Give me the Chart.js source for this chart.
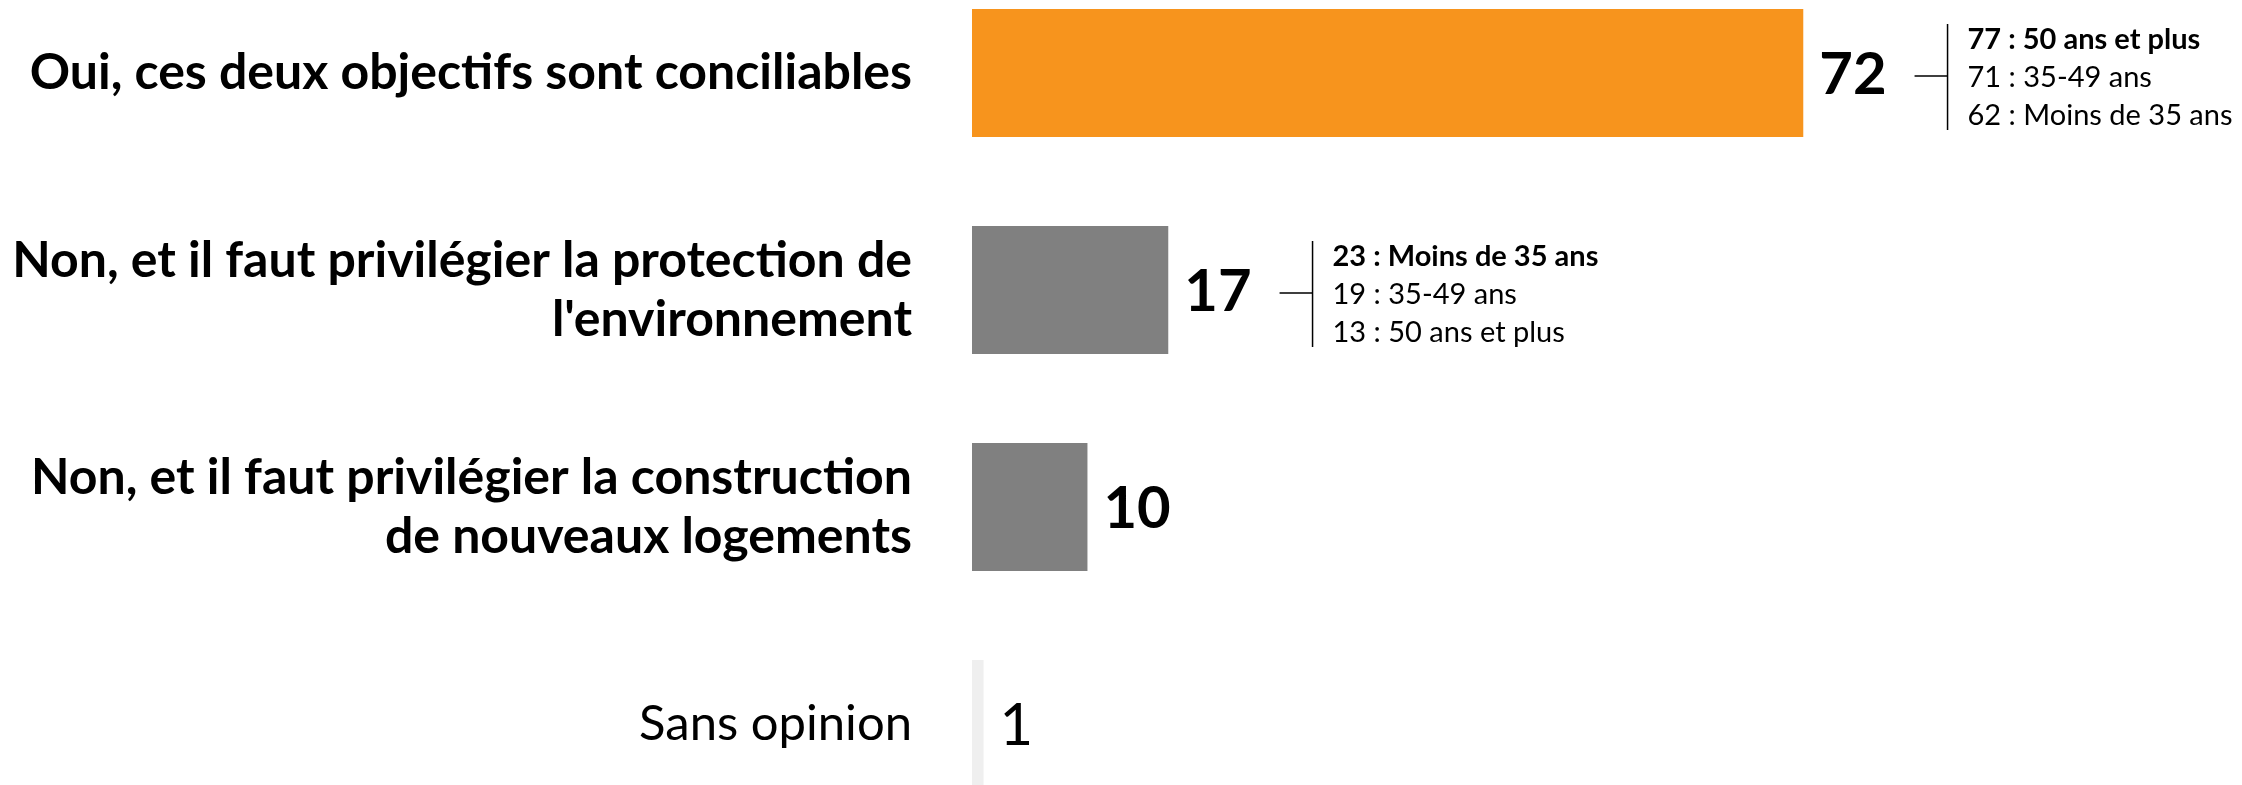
<!DOCTYPE html>
<html>
<head>
<meta charset="utf-8">
<script src="https://cdn.jsdelivr.net/npm/chart.js@4"></script>
<style>
  html, body { margin: 0; padding: 0; background: #ffffff; overflow: hidden; }
  #wrap { width: 2242px; height: 785px; position: relative; }
</style>
</head>
<body>
<div id="wrap"><canvas id="chart"></canvas></div>
<script>
// Answer options (multi-line labels as arrays)
const categories = [
  ["Oui, ces deux objectifs sont conciliables"],
  ["Non, et il faut privilégier la protection de", "l'environnement"],
  ["Non, et il faut privilégier la construction", "de nouveaux logements"],
  ["Sans opinion"]
];
// Share of respondents (%)
const values = [72, 17, 10, 1];
const barColors = ["#F7941D", "#808080", "#808080", "#EFEFEF"];
// Bold labels for substantive answers, regular for "Sans opinion"
const boldLabels = [true, true, true, false];
// Age-group breakdown next to each bar; first line is the highest group
const breakdowns = [
  ["77 : 50 ans et plus", "71 : 35-49 ans", "62 : Moins de 35 ans"],
  ["23 : Moins de 35 ans", "19 : 35-49 ans", "13 : 50 ans et plus"],
  [],
  []
];

const FONT = "Lato, 'Open Sans', sans-serif";

// Value labels and age-group brackets drawn beside each bar
const barAnnotations = {
  id: "barAnnotations",
  afterDatasetsDraw(chart) {
    const ctx = chart.ctx;
    const meta = chart.getDatasetMeta(0);
    ctx.save();
    meta.data.forEach((bar, i) => {
      const x = bar.x;
      const y = bar.y;
      ctx.fillStyle = "#000";
      ctx.textAlign = "left";
      ctx.textBaseline = "alphabetic";
      ctx.font = (boldLabels[i] ? "bold " : "") + "58px " + FONT;
      const txt = String(values[i]);
      const m = ctx.measureText(txt);
      const asc = m.actualBoundingBoxAscent;
      const tx = x + 16;
      ctx.fillText(txt, tx, y + asc / 2);

      const lines = breakdowns[i];
      if (!lines.length) return;
      const hx0 = tx + m.width + 28;
      const vx = hx0 + 33;
      ctx.strokeStyle = "#000";
      ctx.lineWidth = 1.5;
      ctx.beginPath();
      ctx.moveTo(hx0, y + 3);
      ctx.lineTo(vx, y + 3);
      ctx.moveTo(vx, y - 49);
      ctx.lineTo(vx, y + 57);
      ctx.stroke();

      ctx.textBaseline = "middle";
      lines.forEach((ln, k) => {
        ctx.font = (k === 0 ? "bold " : "") + "29px " + FONT;
        ctx.fillText(ln, vx + 20, y - 33 + k * 38);
      });
    });
    ctx.restore();
  }
};

new Chart(document.getElementById("chart"), {
  type: "bar",
  data: {
    labels: categories,
    datasets: [{
      data: values,
      backgroundColor: barColors,
      borderWidth: 0,
      barPercentage: 0.59,
      categoryPercentage: 1,
      clip: false
    }]
  },
  options: {
    indexAxis: "y",
    responsive: true,
    maintainAspectRatio: false,
    animation: false,
    events: [],
    layout: { padding: { top: 73, bottom: 61, left: 0, right: 0 } },
    plugins: {
      legend: { display: false },
      tooltip: { enabled: false }
    },
    scales: {
      x: { min: 0, max: 110, display: false },
      y: {
        offset: false,
        grid: { display: false, drawTicks: false },
        border: { display: false },
        afterFit(scale) {
          scale.width = 972;
          // labels sit beside the bars, so no extra room above/below
          scale.paddingTop = 0;
          scale.paddingBottom = 0;
        },
        ticks: {
          autoSkip: false,
          color: "#000",
          padding: 60,
          font: (c) => ({
            family: FONT,
            size: boldLabels[c.index] ? 50 : 49,
            lineHeight: 1.18,
            weight: boldLabels[c.index] ? "bold" : "normal"
          })
        }
      }
    }
  },
  plugins: [barAnnotations]
});
</script>
</body>
</html>
